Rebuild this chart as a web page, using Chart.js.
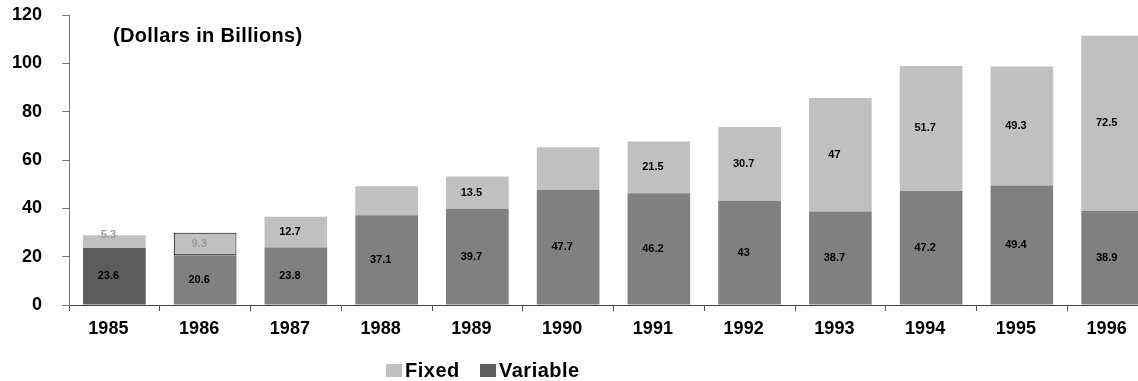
<!DOCTYPE html>
<html>
<head>
<meta charset="utf-8">
<script src="https://cdn.jsdelivr.net/npm/chart.js@4/dist/chart.umd.min.js"></script>
<style>
  html, body { margin: 0; padding: 0; background: #ffffff; overflow: hidden; }
  #wrap { width: 1138px; height: 381px; overflow: hidden; }
  canvas { display: block; }
</style>
</head>
<body>
<div id="wrap"><canvas id="chart" width="1158" height="381"></canvas></div>
<script>
// Annual amounts, dollars in billions
const years = ['1985', '1986', '1987', '1988', '1989', '1990', '1991', '1992', '1993', '1994', '1995', '1996'];
const variableValues = [23.6, 20.6, 23.8, 37.1, 39.7, 47.7, 46.2, 43, 38.7, 47.2, 49.4, 38.9];
const fixedValues = [5.3, 9.3, 12.7, 12.0, 13.5, 17.6, 21.5, 30.7, 47, 51.7, 49.3, 72.5];
// Value labels printed inside the segments (null = no label shown)
const variableLabels = ['23.6', '20.6', '23.8', '37.1', '39.7', '47.7', '46.2', '43', '38.7', '47.2', '49.4', '38.9'];
const fixedLabels = ['5.3', '9.3', '12.7', null, '13.5', null, '21.5', '30.7', '47', '51.7', '49.3', '72.5'];
const yTickValues = [0, 20, 40, 60, 80, 100, 120];

const FONT = '"Liberation Sans", Arial, Helvetica, sans-serif';
const FIXED_COLOR = '#c0c0c0';
const VARIABLE_COLOR = '#808080';
const VARIABLE_DARK = '#5c5c5c';

// Numbers written in the middle of each bar segment
const segmentLabels = {
  id: 'segmentLabels',
  afterDatasetsDraw(chart) {
    const ctx = chart.ctx;
    ctx.save();
    ctx.font = 'bold 11px ' + FONT;
    ctx.textAlign = 'center';
    ctx.textBaseline = 'middle';
    chart.data.datasets.forEach((ds, di) => {
      const meta = chart.getDatasetMeta(di);
      meta.data.forEach((el, i) => {
        const txt = ds.segmentLabels[i];
        if (txt == null) return;
        let cy = (el.y + el.base) / 2;
        if (di === 1 && i === 0) cy -= 7;
        ctx.fillStyle = (di === 1 && i < 2) ? '#9c9c9c' : '#000000';
        ctx.fillText(txt, el.x - 6, cy);
      });
    });
    ctx.restore();
  }
};

// Unit note inside the plot area
const unitNote = {
  id: 'unitNote',
  afterDraw(chart) {
    const ctx = chart.ctx;
    const a = chart.chartArea;
    ctx.save();
    ctx.font = 'bold 20px ' + FONT;
    ctx.letterSpacing = '0.35px';
    ctx.fillStyle = '#000000';
    ctx.textAlign = 'left';
    ctx.textBaseline = 'alphabetic';
    ctx.fillText('(Dollars in Billions)', a.left + 44, a.top + 27);
    ctx.restore();
  }
};

// Legend below the axis: Fixed, then Variable
const bottomLegend = {
  id: 'bottomLegend',
  afterDraw(chart) {
    const ctx = chart.ctx;
    const items = [
      { text: chart.data.datasets[1].label, color: FIXED_COLOR, x: 386 },
      { text: chart.data.datasets[0].label, color: VARIABLE_DARK, x: 480 }
    ];
    ctx.save();
    ctx.font = 'bold 20px ' + FONT;
    ctx.letterSpacing = '0.5px';
    ctx.textAlign = 'left';
    ctx.textBaseline = 'alphabetic';
    items.forEach(it => {
      ctx.fillStyle = it.color;
      ctx.fillRect(it.x, 364, 16, 13);
      ctx.fillStyle = '#000000';
      ctx.fillText(it.text, it.x + 19, 377);
    });
    ctx.restore();
  }
};

new Chart(document.getElementById('chart'), {
  type: 'bar',
  data: {
    labels: years,
    datasets: [
      {
        label: 'Variable',
        data: variableValues,
        segmentLabels: variableLabels,
        backgroundColor: years.map((y, i) => i === 0 ? VARIABLE_DARK : VARIABLE_COLOR),
        borderWidth: 0,
        barPercentage: 0.69,
        categoryPercentage: 1.0
      },
      {
        label: 'Fixed',
        data: fixedValues,
        segmentLabels: fixedLabels,
        backgroundColor: FIXED_COLOR,
        borderColor: '#000000',
        borderWidth: years.map((y, i) => i === 1 ? 1 : 0),
        borderSkipped: false,
        barPercentage: 0.69,
        categoryPercentage: 1.0
      }
    ]
  },
  options: {
    responsive: false,
    animation: false,
    devicePixelRatio: 1,
    layout: { padding: { top: 15, right: 0, bottom: 0, left: 0 } },
    plugins: {
      legend: { display: false },
      tooltip: { enabled: false },
      title: { display: false }
    },
    scales: {
      x: {
        stacked: true,
        offset: true,
        grid: {
          display: true,
          offset: true,
          drawOnChartArea: false,
          drawTicks: true,
          tickLength: 6,
          color: '#555555'
        },
        border: { display: true, color: '#444444', width: 1 },
        ticks: {
          color: '#000000',
          font: { family: FONT, size: 18, weight: 'bold' },
          padding: 7,
          labelOffset: -6,
          maxRotation: 0,
          autoSkip: false
        },
        afterFit(scale) {
          scale.height = 76;
          scale.paddingLeft = 0;
          scale.paddingRight = 0;
        }
      },
      y: {
        stacked: true,
        min: 0,
        max: 120,
        afterBuildTicks(scale) { scale.ticks = yTickValues.map(v => ({ value: v })); },
        grid: {
          display: true,
          drawOnChartArea: false,
          drawTicks: true,
          tickLength: 7,
          color: '#777777'
        },
        border: { display: true, color: '#777777', width: 1 },
        ticks: {
          color: '#000000',
          font: { family: FONT, size: 18, weight: 'bold' },
          padding: 20
        },
        afterFit(scale) {
          scale.width = 69;
          scale.paddingTop = 0;
          scale.paddingBottom = 0;
        }
      }
    }
  },
  plugins: [segmentLabels, unitNote, bottomLegend]
});
</script>
</body>
</html>
